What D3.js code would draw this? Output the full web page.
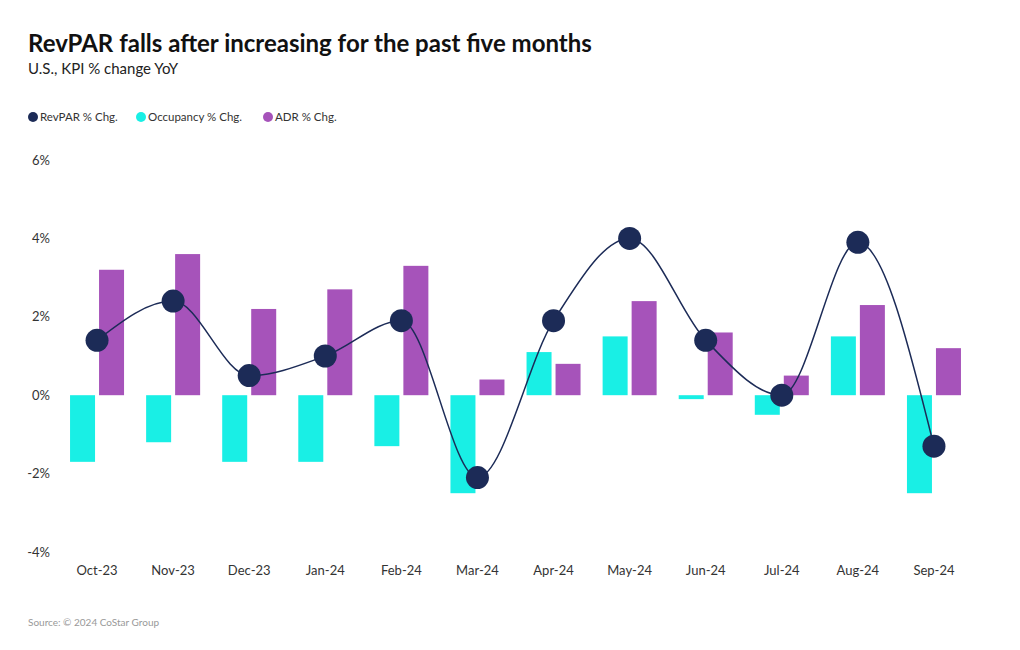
<!DOCTYPE html>
<html><head><meta charset="utf-8">
<script src="https://cdn.jsdelivr.net/npm/d3@7"></script>
<style>
body{margin:0;background:#fff;font-family:Lato,"Noto Sans",sans-serif;}
</style></head>
<body><svg id="c" width="1020" height="650"></svg>
<script>
const months = ["Oct-23","Nov-23","Dec-23","Jan-24","Feb-24","Mar-24","Apr-24","May-24","Jun-24","Jul-24","Aug-24","Sep-24"];
const revpar = [1.4,2.4,0.5,1.0,1.9,-2.1,1.9,4.0,1.4,0.0,3.9,-1.3];
const occupancy = [-1.7,-1.2,-1.7,-1.7,-1.3,-2.5,1.1,1.5,-0.1,-0.5,1.5,-2.5];
const adr = [3.2,3.6,2.2,2.7,3.3,0.4,0.8,2.4,1.6,0.5,2.3,1.2];
const yTicks = [-4,-2,0,2,4,6];
const seriesNames = ["RevPAR % Chg.","Occupancy % Chg.","ADR % Chg."];
const colors = {rev:"#1c2b57", occ:"#19efe5", adr:"#a653ba"};

const svg = d3.select("#c");
const x = d3.scaleBand().domain(months).range([59,972]);
const y = d3.scaleLinear().domain([-4,6]).range([552,160]);
const barW = 25, gap = 4;

svg.append("text").attr("x",28).attr("y",52).attr("font-size",24).attr("font-weight",700).attr("fill","#111")
  .text("RevPAR falls after increasing for the past five months");
svg.append("text").attr("x",28).attr("y",74).attr("font-size",15).attr("fill","#222")
  .text("U.S., KPI % change YoY");

// legend
const legX = [33,141,268];
const legCol = [colors.rev,colors.occ,colors.adr];
seriesNames.forEach((n,i)=>{
  svg.append("circle").attr("cx",legX[i]).attr("cy",117).attr("r",5).attr("fill",legCol[i]);
  svg.append("text").attr("x",legX[i]+7).attr("y",121).attr("font-size",11.5).attr("fill","#333").text(n);
});

// y axis
const yAxis = d3.axisLeft(y).tickValues(yTicks).tickSize(0).tickPadding(0).tickFormat(d=>d+"%");
const ga = svg.append("g").attr("transform","translate(50,0)").call(yAxis);
ga.select(".domain").remove();
ga.selectAll("text").attr("font-size",13).attr("fill","#333").attr("font-family","Lato,sans-serif");

// x axis
const xAxis = d3.axisBottom(x).tickSize(0).tickPadding(0);
const gx = svg.append("g").attr("transform","translate(0,566)").call(xAxis);
gx.select(".domain").remove();
gx.selectAll("text").attr("font-size",13).attr("fill","#333").attr("font-family","Lato,sans-serif");

// bars
const cx = m => x(m)+x.bandwidth()/2;
svg.append("g").selectAll("rect").data(months).join("rect")
  .attr("x",(m)=>cx(m)-gap/2-barW).attr("width",barW)
  .attr("y",(m,i)=>y(Math.max(0,occupancy[i]))).attr("height",(m,i)=>Math.abs(y(occupancy[i])-y(0)))
  .attr("fill",colors.occ);
svg.append("g").selectAll("rect").data(months).join("rect")
  .attr("x",(m)=>cx(m)+gap/2).attr("width",barW)
  .attr("y",(m,i)=>y(Math.max(0,adr[i]))).attr("height",(m,i)=>Math.abs(y(adr[i])-y(0)))
  .attr("fill",colors.adr);

// line
const line = d3.line().x((d,i)=>cx(months[i])).y(d=>y(d)).curve(d3.curveMonotoneX);
svg.append("path").attr("d",line(revpar)).attr("fill","none").attr("stroke",colors.rev).attr("stroke-width",1.5);
svg.append("g").selectAll("circle").data(revpar).join("circle")
  .attr("cx",(d,i)=>cx(months[i])).attr("cy",d=>y(d)).attr("r",11.5).attr("fill",colors.rev);

svg.append("text").attr("x",28).attr("y",626).attr("font-size",10).attr("fill","#999")
  .text("Source: © 2024 CoStar Group");
</script></body></html>
